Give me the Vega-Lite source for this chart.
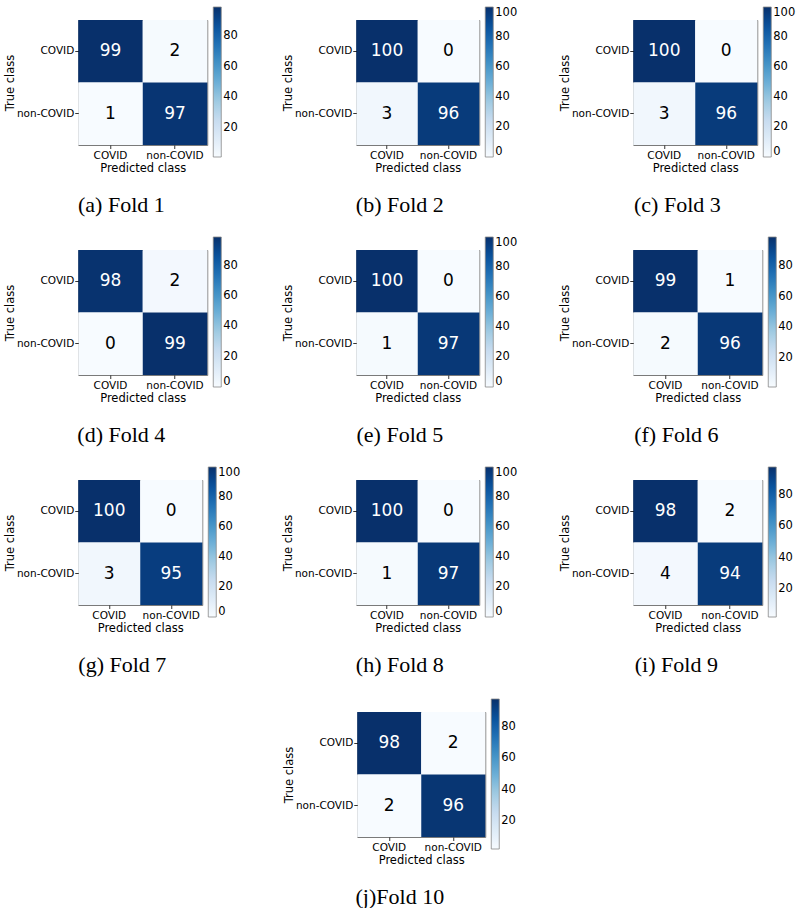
{
  "$schema": "https://vega.github.io/schema/vega-lite/v6.json",
  "padding": {"left": 3, "right": 0, "top": 6, "bottom": 0},
  "datasets": {
    "f1": [{"actual":"COVID","predicted":"COVID","count":99},{"actual":"COVID","predicted":"non-COVID","count":2},{"actual":"non-COVID","predicted":"COVID","count":1},{"actual":"non-COVID","predicted":"non-COVID","count":97}],
    "f2": [{"actual":"COVID","predicted":"COVID","count":100},{"actual":"COVID","predicted":"non-COVID","count":0},{"actual":"non-COVID","predicted":"COVID","count":3},{"actual":"non-COVID","predicted":"non-COVID","count":96}],
    "f3": [{"actual":"COVID","predicted":"COVID","count":100},{"actual":"COVID","predicted":"non-COVID","count":0},{"actual":"non-COVID","predicted":"COVID","count":3},{"actual":"non-COVID","predicted":"non-COVID","count":96}],
    "f4": [{"actual":"COVID","predicted":"COVID","count":98},{"actual":"COVID","predicted":"non-COVID","count":2},{"actual":"non-COVID","predicted":"COVID","count":0},{"actual":"non-COVID","predicted":"non-COVID","count":99}],
    "f5": [{"actual":"COVID","predicted":"COVID","count":100},{"actual":"COVID","predicted":"non-COVID","count":0},{"actual":"non-COVID","predicted":"COVID","count":1},{"actual":"non-COVID","predicted":"non-COVID","count":97}],
    "f6": [{"actual":"COVID","predicted":"COVID","count":99},{"actual":"COVID","predicted":"non-COVID","count":1},{"actual":"non-COVID","predicted":"COVID","count":2},{"actual":"non-COVID","predicted":"non-COVID","count":96}],
    "f7": [{"actual":"COVID","predicted":"COVID","count":100},{"actual":"COVID","predicted":"non-COVID","count":0},{"actual":"non-COVID","predicted":"COVID","count":3},{"actual":"non-COVID","predicted":"non-COVID","count":95}],
    "f8": [{"actual":"COVID","predicted":"COVID","count":100},{"actual":"COVID","predicted":"non-COVID","count":0},{"actual":"non-COVID","predicted":"COVID","count":1},{"actual":"non-COVID","predicted":"non-COVID","count":97}],
    "f9": [{"actual":"COVID","predicted":"COVID","count":98},{"actual":"COVID","predicted":"non-COVID","count":2},{"actual":"non-COVID","predicted":"COVID","count":4},{"actual":"non-COVID","predicted":"non-COVID","count":94}],
    "f10": [{"actual":"COVID","predicted":"COVID","count":98},{"actual":"COVID","predicted":"non-COVID","count":2},{"actual":"non-COVID","predicted":"COVID","count":2},{"actual":"non-COVID","predicted":"non-COVID","count":96}]
  },
  "vconcat": [
    {
      "columns": 3,
      "spacing": {"row": 20, "column": 40},
      "resolve": {"scale": {"color": "independent"}, "legend": {"color": "independent"}},
      "concat": [
        {
          "width": 129, "height": 125, "data": {"name": "f1"}, "title": {"text": "(a) Fold 1"},
          "encoding": {
            "x": {"field": "predicted", "type": "nominal", "title": "Predicted class", "scale": {"domain": ["COVID","non-COVID"]}},
            "y": {"field": "actual", "type": "nominal", "title": "True class", "scale": {"domain": ["COVID","non-COVID"]}}
          },
          "layer": [
            {"mark": "rect", "encoding": {"color": {"field": "count", "type": "quantitative",
              "scale": {"domain": [1,13.25,25.5,37.75,50,62.25,74.5,86.75,99], "range": ["#f7fbff","#deebf7","#c6dbef","#9ecae1","#6baed6","#4292c6","#2171b5","#08519c","#08306b"], "interpolate": "rgb"},
              "legend": {"title": null, "values": [20,40,60,80], "orient": "none", "legendX": 135, "legendY": -13, "direction": "vertical"}}}},
            {"mark": "text", "encoding": {"text": {"field": "count", "type": "quantitative"}, "color": {"condition": {"test": "datum.count > 50", "value": "white"}, "value": "black"}}}
          ]
        },
        {
          "width": 123, "height": 125, "data": {"name": "f2"}, "title": {"text": "(b) Fold 2"},
          "encoding": {
            "x": {"field": "predicted", "type": "nominal", "title": "Predicted class", "scale": {"domain": ["COVID","non-COVID"]}},
            "y": {"field": "actual", "type": "nominal", "title": "True class", "scale": {"domain": ["COVID","non-COVID"]}}
          },
          "layer": [
            {"mark": "rect", "encoding": {"color": {"field": "count", "type": "quantitative",
              "scale": {"domain": [0,12.5,25,37.5,50,62.5,75,87.5,100], "range": ["#f7fbff","#deebf7","#c6dbef","#9ecae1","#6baed6","#4292c6","#2171b5","#08519c","#08306b"], "interpolate": "rgb"},
              "legend": {"title": null, "values": [0,20,40,60,80,100], "orient": "none", "legendX": 129, "legendY": -13, "direction": "vertical"}}}},
            {"mark": "text", "encoding": {"text": {"field": "count", "type": "quantitative"}, "color": {"condition": {"test": "datum.count > 50", "value": "white"}, "value": "black"}}}
          ]
        },
        {
          "width": 124, "height": 125, "data": {"name": "f3"}, "title": {"text": "(c) Fold 3"},
          "encoding": {
            "x": {"field": "predicted", "type": "nominal", "title": "Predicted class", "scale": {"domain": ["COVID","non-COVID"]}},
            "y": {"field": "actual", "type": "nominal", "title": "True class", "scale": {"domain": ["COVID","non-COVID"]}}
          },
          "layer": [
            {"mark": "rect", "encoding": {"color": {"field": "count", "type": "quantitative",
              "scale": {"domain": [0,12.5,25,37.5,50,62.5,75,87.5,100], "range": ["#f7fbff","#deebf7","#c6dbef","#9ecae1","#6baed6","#4292c6","#2171b5","#08519c","#08306b"], "interpolate": "rgb"},
              "legend": {"title": null, "values": [0,20,40,60,80,100], "orient": "none", "legendX": 130, "legendY": -13, "direction": "vertical"}}}},
            {"mark": "text", "encoding": {"text": {"field": "count", "type": "quantitative"}, "color": {"condition": {"test": "datum.count > 50", "value": "white"}, "value": "black"}}}
          ]
        },
        {
          "width": 129, "height": 125, "data": {"name": "f4"}, "title": {"text": "(d) Fold 4"},
          "encoding": {
            "x": {"field": "predicted", "type": "nominal", "title": "Predicted class", "scale": {"domain": ["COVID","non-COVID"]}},
            "y": {"field": "actual", "type": "nominal", "title": "True class", "scale": {"domain": ["COVID","non-COVID"]}}
          },
          "layer": [
            {"mark": "rect", "encoding": {"color": {"field": "count", "type": "quantitative",
              "scale": {"domain": [0,12.375,24.75,37.125,49.5,61.875,74.25,86.625,99], "range": ["#f7fbff","#deebf7","#c6dbef","#9ecae1","#6baed6","#4292c6","#2171b5","#08519c","#08306b"], "interpolate": "rgb"},
              "legend": {"title": null, "values": [0,20,40,60,80], "orient": "none", "legendX": 135, "legendY": -13, "direction": "vertical"}}}},
            {"mark": "text", "encoding": {"text": {"field": "count", "type": "quantitative"}, "color": {"condition": {"test": "datum.count > 50", "value": "white"}, "value": "black"}}}
          ]
        },
        {
          "width": 123, "height": 125, "data": {"name": "f5"}, "title": {"text": "(e) Fold 5"},
          "encoding": {
            "x": {"field": "predicted", "type": "nominal", "title": "Predicted class", "scale": {"domain": ["COVID","non-COVID"]}},
            "y": {"field": "actual", "type": "nominal", "title": "True class", "scale": {"domain": ["COVID","non-COVID"]}}
          },
          "layer": [
            {"mark": "rect", "encoding": {"color": {"field": "count", "type": "quantitative",
              "scale": {"domain": [0,12.5,25,37.5,50,62.5,75,87.5,100], "range": ["#f7fbff","#deebf7","#c6dbef","#9ecae1","#6baed6","#4292c6","#2171b5","#08519c","#08306b"], "interpolate": "rgb"},
              "legend": {"title": null, "values": [0,20,40,60,80,100], "orient": "none", "legendX": 129, "legendY": -13, "direction": "vertical"}}}},
            {"mark": "text", "encoding": {"text": {"field": "count", "type": "quantitative"}, "color": {"condition": {"test": "datum.count > 50", "value": "white"}, "value": "black"}}}
          ]
        },
        {
          "width": 129, "height": 125, "data": {"name": "f6"}, "title": {"text": "(f) Fold 6"},
          "encoding": {
            "x": {"field": "predicted", "type": "nominal", "title": "Predicted class", "scale": {"domain": ["COVID","non-COVID"]}},
            "y": {"field": "actual", "type": "nominal", "title": "True class", "scale": {"domain": ["COVID","non-COVID"]}}
          },
          "layer": [
            {"mark": "rect", "encoding": {"color": {"field": "count", "type": "quantitative",
              "scale": {"domain": [1,13.25,25.5,37.75,50,62.25,74.5,86.75,99], "range": ["#f7fbff","#deebf7","#c6dbef","#9ecae1","#6baed6","#4292c6","#2171b5","#08519c","#08306b"], "interpolate": "rgb"},
              "legend": {"title": null, "values": [20,40,60,80], "orient": "none", "legendX": 135, "legendY": -13, "direction": "vertical"}}}},
            {"mark": "text", "encoding": {"text": {"field": "count", "type": "quantitative"}, "color": {"condition": {"test": "datum.count > 50", "value": "white"}, "value": "black"}}}
          ]
        },
        {
          "width": 124, "height": 125, "data": {"name": "f7"}, "title": {"text": "(g) Fold 7"},
          "encoding": {
            "x": {"field": "predicted", "type": "nominal", "title": "Predicted class", "scale": {"domain": ["COVID","non-COVID"]}},
            "y": {"field": "actual", "type": "nominal", "title": "True class", "scale": {"domain": ["COVID","non-COVID"]}}
          },
          "layer": [
            {"mark": "rect", "encoding": {"color": {"field": "count", "type": "quantitative",
              "scale": {"domain": [0,12.5,25,37.5,50,62.5,75,87.5,100], "range": ["#f7fbff","#deebf7","#c6dbef","#9ecae1","#6baed6","#4292c6","#2171b5","#08519c","#08306b"], "interpolate": "rgb"},
              "legend": {"title": null, "values": [0,20,40,60,80,100], "orient": "none", "legendX": 130, "legendY": -13, "direction": "vertical"}}}},
            {"mark": "text", "encoding": {"text": {"field": "count", "type": "quantitative"}, "color": {"condition": {"test": "datum.count > 50", "value": "white"}, "value": "black"}}}
          ]
        },
        {
          "width": 123, "height": 125, "data": {"name": "f8"}, "title": {"text": "(h) Fold 8"},
          "encoding": {
            "x": {"field": "predicted", "type": "nominal", "title": "Predicted class", "scale": {"domain": ["COVID","non-COVID"]}},
            "y": {"field": "actual", "type": "nominal", "title": "True class", "scale": {"domain": ["COVID","non-COVID"]}}
          },
          "layer": [
            {"mark": "rect", "encoding": {"color": {"field": "count", "type": "quantitative",
              "scale": {"domain": [0,12.5,25,37.5,50,62.5,75,87.5,100], "range": ["#f7fbff","#deebf7","#c6dbef","#9ecae1","#6baed6","#4292c6","#2171b5","#08519c","#08306b"], "interpolate": "rgb"},
              "legend": {"title": null, "values": [0,20,40,60,80,100], "orient": "none", "legendX": 129, "legendY": -13, "direction": "vertical"}}}},
            {"mark": "text", "encoding": {"text": {"field": "count", "type": "quantitative"}, "color": {"condition": {"test": "datum.count > 50", "value": "white"}, "value": "black"}}}
          ]
        },
        {
          "width": 129, "height": 125, "data": {"name": "f9"}, "title": {"text": "(i) Fold 9"},
          "encoding": {
            "x": {"field": "predicted", "type": "nominal", "title": "Predicted class", "scale": {"domain": ["COVID","non-COVID"]}},
            "y": {"field": "actual", "type": "nominal", "title": "True class", "scale": {"domain": ["COVID","non-COVID"]}}
          },
          "layer": [
            {"mark": "rect", "encoding": {"color": {"field": "count", "type": "quantitative",
              "scale": {"domain": [2,14,26,38,50,62,74,86,98], "range": ["#f7fbff","#deebf7","#c6dbef","#9ecae1","#6baed6","#4292c6","#2171b5","#08519c","#08306b"], "interpolate": "rgb"},
              "legend": {"title": null, "values": [20,40,60,80], "orient": "none", "legendX": 135, "legendY": -13, "direction": "vertical"}}}},
            {"mark": "text", "encoding": {"text": {"field": "count", "type": "quantitative"}, "color": {"condition": {"test": "datum.count > 50", "value": "white"}, "value": "black"}}}
          ]
        }
      ]
    },
    {
      "width": 128, "height": 125, "data": {"name": "f10"}, "title": {"text": "(j)Fold 10"},
      "encoding": {
        "x": {"field": "predicted", "type": "nominal", "title": "Predicted class", "scale": {"domain": ["COVID","non-COVID"]}},
        "y": {"field": "actual", "type": "nominal", "title": "True class", "scale": {"domain": ["COVID","non-COVID"]}}
      },
      "layer": [
        {"mark": "rect", "encoding": {"color": {"field": "count", "type": "quantitative",
          "scale": {"domain": [2,14,26,38,50,62,74,86,98], "range": ["#f7fbff","#deebf7","#c6dbef","#9ecae1","#6baed6","#4292c6","#2171b5","#08519c","#08306b"], "interpolate": "rgb"},
          "legend": {"title": null, "values": [20,40,60,80], "orient": "none", "legendX": 134, "legendY": -13, "direction": "vertical"}}}},
        {"mark": "text", "encoding": {"text": {"field": "count", "type": "quantitative"}, "color": {"condition": {"test": "datum.count > 50", "value": "white"}, "value": "black"}}}
      ]
    }
  ],
  "center": true,
  "spacing": 22,
  "resolve": {"scale": {"color": "independent"}, "legend": {"color": "independent"}},
  "config": {
    "font": "DejaVu Sans",
    "view": {"stroke": "#7a7a7a", "strokeWidth": 1},
    "text": {"font": "DejaVu Sans", "fontSize": 17},
    "axis": {"labelFont": "DejaVu Sans", "labelFontSize": 10.5, "labelColor": "black", "titleFont": "DejaVu Sans", "titleFontSize": 11.5, "titleFontWeight": "normal", "titleColor": "black", "tickColor": "black", "tickSize": 3.5, "tickWidth": 0.8, "domain": false, "grid": false, "labelPadding": 1, "titlePadding": 1},
    "axisX": {"labelAngle": 0, "labelPadding": 2, "titlePadding": 1},
    "legend": {"gradientLength": 150, "gradientThickness": 8, "labelFont": "DejaVu Sans", "labelFontSize": 11.5, "labelColor": "black", "labelOffset": 3, "labelBaseline": "middle", "labelOverlap": false, "gradientStrokeColor": "#888888", "gradientStrokeWidth": 0.8},
    "title": {"orient": "bottom", "anchor": "middle", "frame": "bounds", "font": "Liberation Serif", "fontSize": 22, "fontWeight": "normal", "color": "black", "offset": 21}
  }
}
